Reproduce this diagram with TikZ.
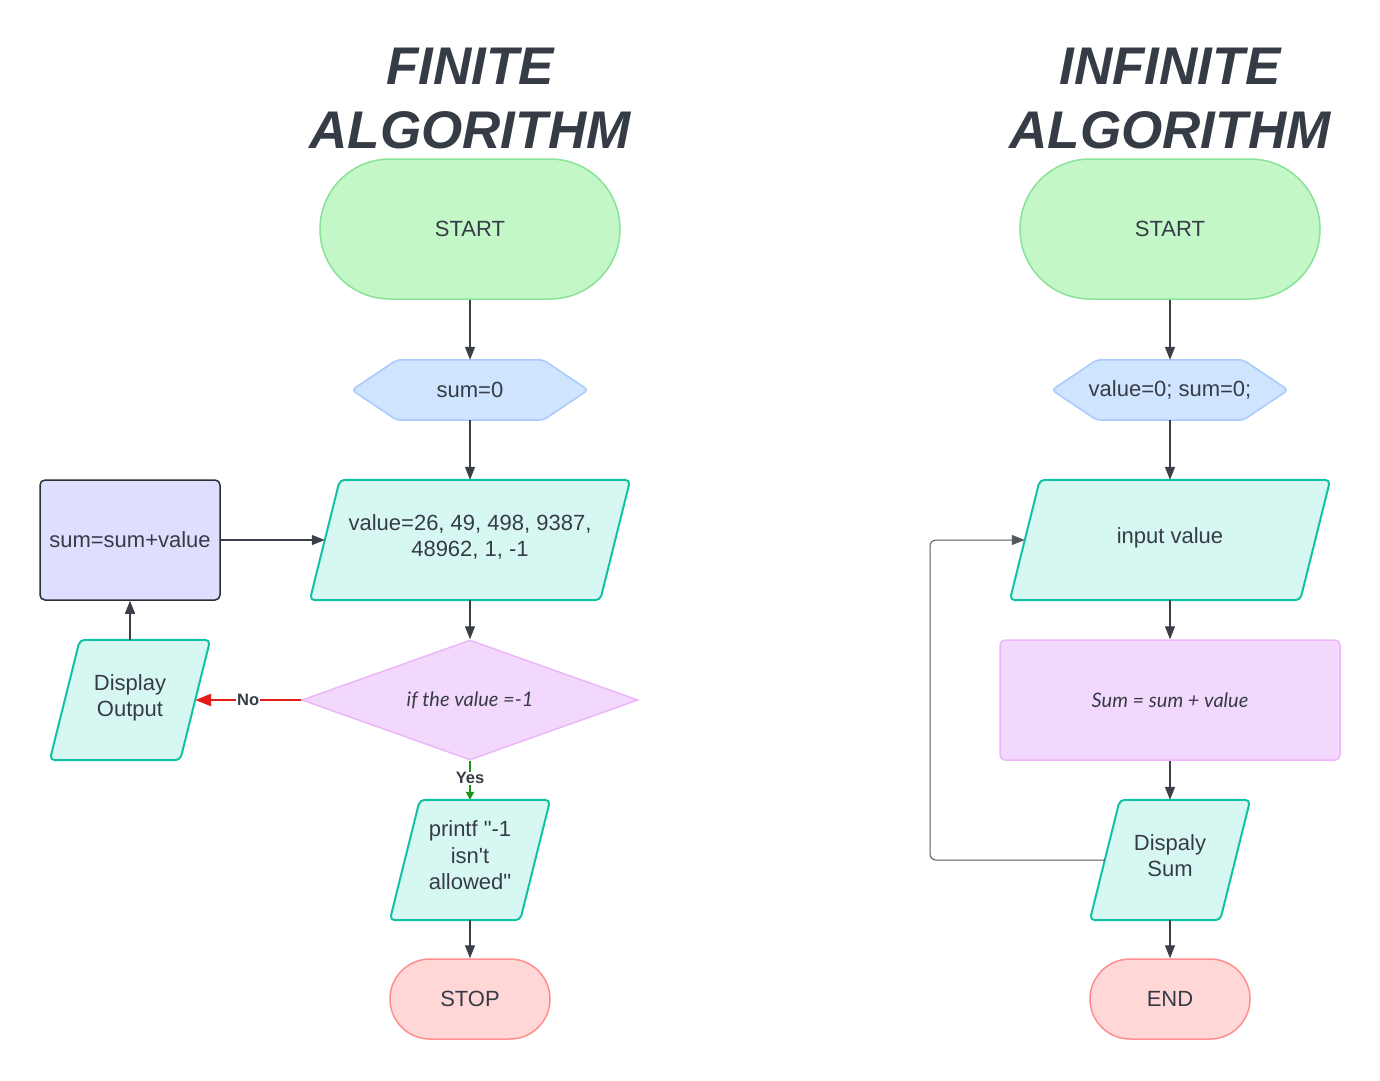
\documentclass[tikz,border=0pt]{standalone}
\usepackage{fontspec}
\setmainfont{Liberation Sans}[Ligatures=TeXOff]
\newfontfamily\latofont{Lato}
\usetikzlibrary{shapes.geometric,arrows.meta,backgrounds}
\definecolor{txt}{HTML}{363C45}
\definecolor{linec}{HTML}{3B4048}
\definecolor{loopc}{HTML}{55595F}
\definecolor{greenF}{HTML}{C3F7C8}
\definecolor{greenD}{HTML}{88E398}
\definecolor{blueF}{HTML}{CFE4FF}
\definecolor{blueD}{HTML}{A9CBFC}
\definecolor{tealF}{HTML}{D7F8F2}
\definecolor{tealD}{HTML}{12C2A4}
\definecolor{lavF}{HTML}{DEDEFF}
\definecolor{lavD}{HTML}{2D2F36}
\definecolor{pinkF}{HTML}{F3D8FD}
\definecolor{pinkD}{HTML}{EDB6F8}
\definecolor{redF}{HTML}{FFD7D7}
\definecolor{redD}{HTML}{FF8F8F}
\definecolor{noRed}{HTML}{E51C1C}
\definecolor{yesGreen}{HTML}{1A8F1A}
\newcommand{\lift}{\\[-25pt]\strut}
\begin{document}
\begin{tikzpicture}[x=1pt,y=-1pt,
  base/.style={font=\fontsize{22}{26.5}\selectfont, text=txt, align=center, inner sep=0pt},
  titlestyle/.style={font=\fontsize{53}{64}\selectfont\bfseries\itshape, text=txt, inner sep=0pt},
  startbox/.style={base, rectangle, minimum width=300pt, minimum height=140pt, rounded corners=70pt, fill=greenF, draw=greenD, line width=1.5pt},
  stopbox/.style={base, rectangle, minimum width=160pt, minimum height=80pt, rounded corners=40pt, fill=redF, draw=redD, line width=1.5pt},
  hexbox/.style={base, rectangle, minimum width=236pt, minimum height=60pt},
  hexdraw/.style={fill=blueF, draw=blueD, line width=1.5pt, rounded corners=4pt},
  iobox/.style={base, rectangle, minimum height=120pt},
  iodraw/.style={fill=tealF, draw=tealD, line width=2pt, rounded corners=5pt},
  procbox/.style={base, rectangle, rounded corners=5pt, line width=1.5pt},
  decbox/.style={base, diamond, aspect=2.8, minimum width=336pt, minimum height=120pt, fill=pinkF, draw=pinkD, line width=1.5pt, font=\fontsize{20}{24}\selectfont\latofont\itshape},
  arr/.style={draw=linec, line width=1.2pt, -{Triangle[length=13pt,width=10pt]}},
  looparr/.style={draw=loopc, line width=1pt, rounded corners=6pt, -{Triangle[length=13pt,width=10pt]}},
  noarr/.style={draw=noRed, line width=2.5pt, -{Triangle[length=16pt,width=12pt]}},
  yesarr/.style={draw=yesGreen, line width=2.5pt, -{Triangle[length=8pt,width=8pt]}},
  lbl/.style={font=\fontsize{16.5}{18}\selectfont\bfseries, text=txt, fill=white, inner sep=1pt}
]
\useasboundingbox (0,0) rectangle (1380,1080);
\begin{pgfonlayer}{background}
  \fill[white] (0,0) rectangle (1380,1080);
\end{pgfonlayer}

% ---------- titles ----------
\node[titlestyle, anchor=base] (t1a) at (470,84) {FINITE};
\node[titlestyle, anchor=base] (t1b) at (470,148) {ALGORITHM};
\node[titlestyle, anchor=base] (t2a) at (1170,84) {INFINITE};
\node[titlestyle, anchor=base] (t2b) at (1170,148) {ALGORITHM};

% ---------- finite ----------
\node[startbox] (start1) at (470,229) {START};
\node[hexbox] (init1) at (470,390) {sum=0};
\node[iobox, minimum width=290pt] (val1) at (470,540) {value=26, 49, 498, 9387,\\48962, 1, -1\lift};
\node[decbox] (dec1) at (470,700) {if the value =-1};
\node[iobox, minimum width=130pt] (print1) at (470,860) {printf "-1\\isn't\\allowed"\lift};
\node[stopbox] (stop1) at (470,999) {STOP};
\node[procbox, minimum width=180pt, minimum height=120pt, fill=lavF, draw=lavD] (sumbox) at (130,540) {sum=sum+value};
\node[iobox, minimum width=130pt] (disp1) at (130,700) {Display\\Output\lift};

% ---------- infinite ----------
\node[startbox] (start2) at (1170,229) {START};
\node[hexbox] (init2) at (1170,390) {value=0; sum=0;};
\node[iobox, minimum width=290pt] (in2) at (1170,540) {input value\lift};
\node[procbox, minimum width=340pt, minimum height=120pt, fill=pinkF, draw=pinkD, font=\fontsize{20}{24}\selectfont\latofont\itshape] (sum2) at (1170,700) {Sum = sum + value};
\node[iobox, minimum width=130pt] (disp2) at (1170,860) {Dispaly\\Sum\lift};
\node[stopbox] (end2) at (1170,999) {END};
\coordinate (lp) at (930,700);

\begin{pgfonlayer}{background}
  \foreach \h in {init1,init2}{
    \draw[hexdraw] (\h.west) -- ([xshift=45pt]\h.north west) -- ([xshift=-45pt]\h.north east)
      -- (\h.east) -- ([xshift=-45pt]\h.south east) -- ([xshift=45pt]\h.south west) -- cycle;
  }
  \foreach \p in {val1,print1,disp1,in2,disp2}{
    \draw[iodraw] ([xshift=-15pt]\p.south west) -- ([xshift=15pt]\p.north west)
      -- ([xshift=15pt]\p.north east) -- ([xshift=-15pt]\p.south east) -- cycle;
  }
\end{pgfonlayer}

% ---------- connectors ----------
\draw[arr] (start1.south) -- (init1.north);
\draw[arr] (init1.south) -- (val1.north);
\draw[arr] (val1.south) -- (dec1.north);
\draw[yesarr] (dec1.south) -- node[lbl, pos=0.45] {Yes} (print1.north);
\draw[arr] (print1.south) -- (stop1.north);
\draw[noarr] (dec1.west) -- node[lbl] {No} (disp1.east);
\draw[arr] (disp1.north) -- (sumbox.south);
\draw[arr] (sumbox.east) -- (val1.west);

\draw[arr] (start2.south) -- (init2.north);
\draw[arr] (init2.south) -- (in2.north);
\draw[arr] (in2.south) -- (sum2.north);
\draw[arr] (sum2.south) -- (disp2.north);
\draw[arr] (disp2.south) -- (end2.north);
\draw[looparr] (disp2.west) -- (disp2.west -| lp) |- (in2.west);
\end{tikzpicture}
\end{document}
